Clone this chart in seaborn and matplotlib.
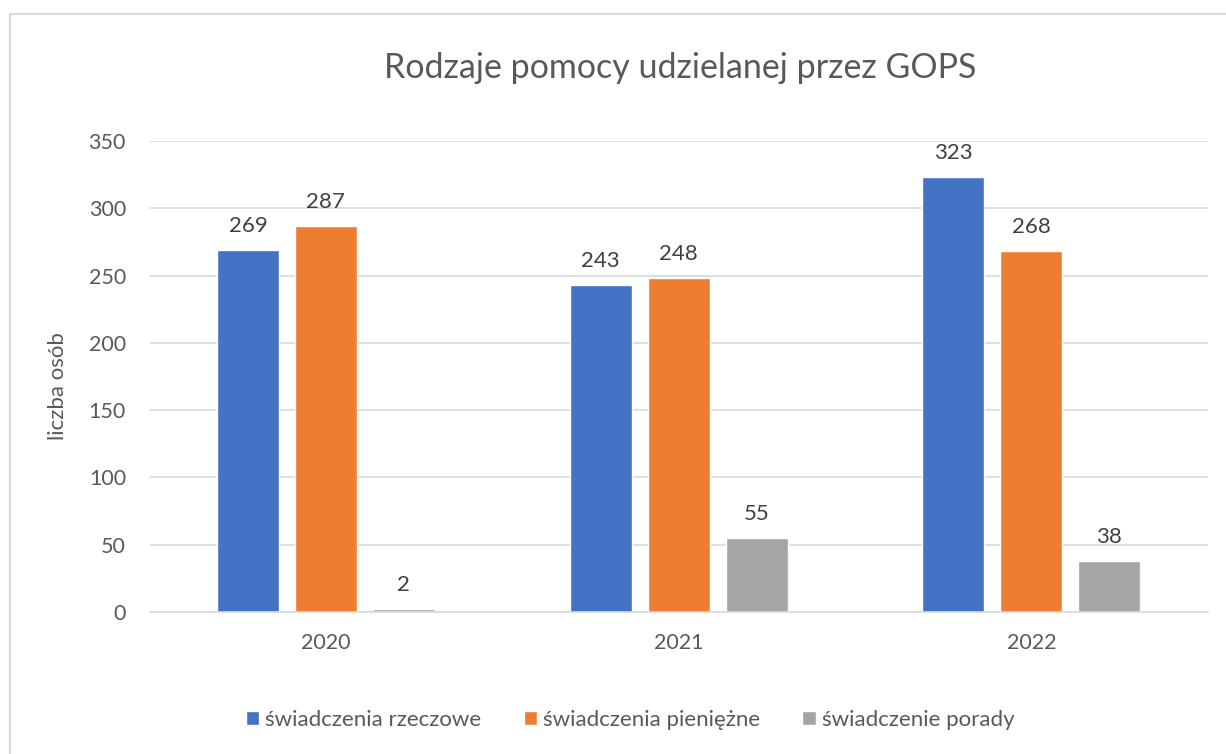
import pandas as pd
import matplotlib.pyplot as plt
import seaborn as sns
from matplotlib.patches import Rectangle

# Data
years = ['2020', '2021', '2022']
series = ['świadczenia rzeczowe', 'świadczenia pieniężne', 'świadczenie porady']
rzeczowe = [269, 243, 323]
pieniezne = [287, 248, 268]
porady = [2, 55, 38]
colors = ['#4472C4', '#ED7D31', '#A5A5A5']

df = pd.DataFrame({
    'rok': years * 3,
    'rodzaj': [s for s in series for _ in years],
    'liczba': rzeczowe + pieniezne + porady,
})

sns.set_theme(style='white')
plt.rcParams['font.family'] = ['Lato', 'DejaVu Sans']
text_col = '#595959'

fig = plt.figure(figsize=(12.26, 7.54), dpi=100)
ax = fig.add_axes([0.122, 0.1883, 0.863, 0.6247])

sns.barplot(data=df, x='rok', y='liczba', hue='rodzaj', palette=colors,
            width=0.663, gap=0.205, saturation=1, ax=ax, legend=True)

for cont in ax.containers:
    ax.bar_label(cont, padding=10, fontsize=16, color='#404040')

ax.set_ylim(0, 350)
ax.set_yticks(range(0, 351, 50))
ax.yaxis.grid(True, color='#D9D9D9', linewidth=1.2)
ax.set_axisbelow(True)
for s in ['top', 'right', 'left']:
    ax.spines[s].set_visible(False)
ax.spines['bottom'].set_color('#D9D9D9')
ax.spines['bottom'].set_linewidth(1.2)
ax.tick_params(axis='both', length=0, labelsize=15.5, colors=text_col)
ax.tick_params(axis='x', pad=15)
ax.tick_params(axis='y', pad=17)
ax.set_xlabel('')
ax.set_ylabel('liczba osób', fontsize=16, color=text_col)
ax.yaxis.set_label_coords(-0.077, 0.48)

fig.text(0.555, 0.91, 'Rodzaje pomocy udzielanej przez GOPS', ha='center',
         va='center', fontsize=24.5, color=text_col)

handles, labels = ax.get_legend_handles_labels()
ax.legend(handles, labels, loc='center', bbox_to_anchor=(0.514, 0.045),
          bbox_transform=fig.transFigure, ncol=3, frameon=False,
          fontsize=16, labelcolor=text_col, handlelength=0.6, handleheight=0.6,
          handletextpad=0.27, columnspacing=1.9)

# chart border
fig.patches.append(Rectangle((0.008, -0.01), 1.0, 0.992, transform=fig.transFigure,
                             fill=False, edgecolor='#D9D9D9', linewidth=1.5))

fig.savefig('out.png', dpi=100)
